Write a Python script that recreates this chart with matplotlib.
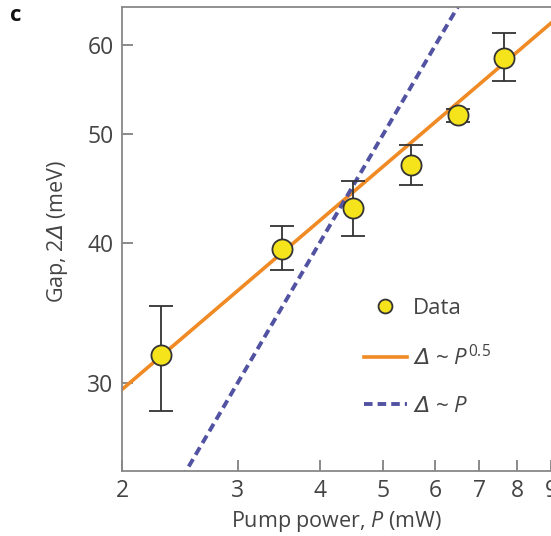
import matplotlib
matplotlib.use("Agg")
import matplotlib.pyplot as plt
import numpy as np
from matplotlib.lines import Line2D

# Data
power = [2.29, 3.50, 4.50, 5.50, 6.50, 7.64]          # mW
gap = [31.8, 39.5, 43.0, 46.9, 52.0, 58.5]            # meV
gap_hi = [35.1, 41.4, 45.4, 48.9, 52.6, 61.5]
gap_lo = [28.3, 37.8, 40.6, 45.0, 51.3, 55.7]

# Fit lines: 2Δ = A * P^n
sqrt_amp, sqrt_exp = 20.93, 0.5
lin_amp, lin_exp = 10.0, 1.0

xticks = [2, 3, 4, 5, 6, 7, 8, 9]
yticks = [30, 40, 50, 60]

plt.rcParams['font.family'] = ['Open Sans', 'DejaVu Sans']
plt.rcParams['mathtext.fontset'] = 'custom'
plt.rcParams['mathtext.rm'] = 'Open Sans'
plt.rcParams['mathtext.it'] = 'Open Sans:italic'
plt.rcParams['mathtext.sf'] = 'DejaVu Sans:italic'

fig = plt.figure(figsize=(5.51, 5.36), dpi=100)
ax = fig.add_axes([0.2214, 0.1213, 0.7786, 0.8657])
ax.set_xscale('log')
ax.set_yscale('log')
xlim = (2, 9.0)
ylim = (25.04, 64.9)

xs = np.geomspace(xlim[0], xlim[1], 200)
ax.plot(xs, sqrt_amp * xs ** sqrt_exp, color='#f08a24', lw=2.6, zorder=2)
ax.plot(xs, lin_amp * xs ** lin_exp, color='#5252a3', lw=2.8, ls=(0, (2.2, 1.3)), zorder=2)

g = np.array(gap)
yerr = [g - np.array(gap_lo), np.array(gap_hi) - g]
ax.errorbar(power, gap, yerr=yerr, fmt='none', ecolor='#333333', elinewidth=1.3,
            capsize=8.3, capthick=1.3, zorder=3)
ax.plot(power, gap, 'o', ms=14.5, mfc='#f5e31c', mec='#333333', mew=1.3, zorder=4, ls='none')

ax.set_xlim(*xlim)
ax.set_ylim(*ylim)
ax.xaxis.set_major_locator(matplotlib.ticker.FixedLocator(xticks))
ax.xaxis.set_minor_locator(matplotlib.ticker.NullLocator())
ax.yaxis.set_major_locator(matplotlib.ticker.FixedLocator(yticks))
ax.yaxis.set_minor_locator(matplotlib.ticker.NullLocator())
ax.set_xticklabels([str(t) for t in xticks])
ax.set_yticklabels([str(t) for t in yticks])
ax.tick_params(direction='in', length=8, width=1.2, color='#777777',
               labelsize=16.5, labelcolor='#444444', pad=6)

for s in ['left', 'bottom', 'top']:
    ax.spines[s].set_color('#888888')
    ax.spines[s].set_linewidth(1.3)
ax.spines['right'].set_visible(False)

ax.set_xlabel(r'Pump power, $\mathit{P}$ (mW)', fontsize=15.5, color='#444444', labelpad=4)
ax.set_ylabel(r'Gap, 2$\mathsf{Δ}$ (meV)', fontsize=15.5, color='#444444')
ax.yaxis.set_label_coords(-0.122, 0.517)

handles = [
    Line2D([], [], marker='o', ls='none', ms=10, mfc='#f5e31c', mec='#333333', mew=1.3),
    Line2D([], [], color='#f08a24', lw=2.6),
    Line2D([], [], color='#5252a3', lw=2.8, ls=(0, (2.2, 1.3))),
]
labels = ['Data', r'$\mathsf{Δ}$ ~ $\mathit{P}^{0.5}$', r'$\mathsf{Δ}$ ~ $\mathit{P}$']
ax.legend(handles, labels, loc='upper left', bbox_to_anchor=(0.66, 0.444),
          bbox_transform=fig.transFigure, frameon=False,
          fontsize=16, labelcolor='#444444', handlelength=1.95, handletextpad=0.25,
          labelspacing=1.16, borderpad=0, borderaxespad=0)

fig.text(0.018, 0.972, 'c', fontsize=16, fontweight='bold', color='#111111', va='center')

fig.savefig('out.png', dpi=100)
